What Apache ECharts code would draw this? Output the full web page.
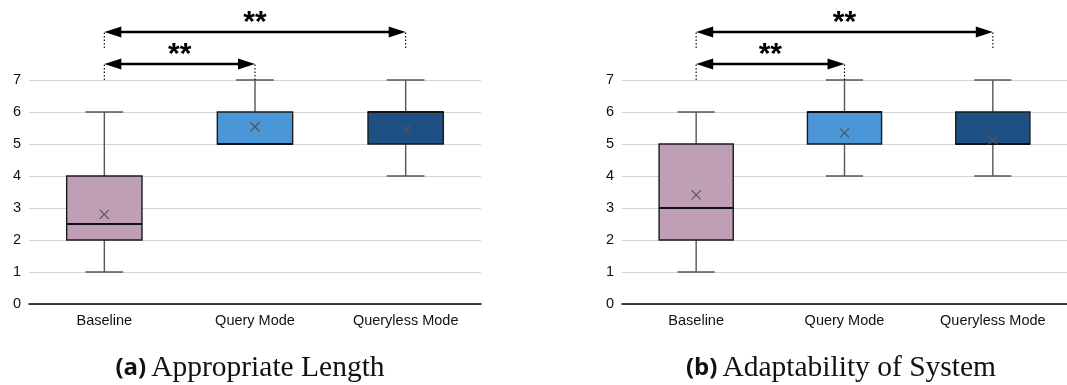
<!DOCTYPE html>
<html><head><meta charset="utf-8">
<script src="https://cdn.jsdelivr.net/npm/echarts@6/dist/echarts.min.js"></script>
<style>html,body{margin:0;padding:0;background:#fff}#c{width:1067px;height:385px}</style>
</head><body><div id="c"></div>
<script>
// ---- data ----
const categories = ['Baseline', 'Query Mode', 'Queryless Mode'];
// [min, Q1, median, Q3, max, mean]
const lengthStats = [
  [1, 2, 2.5, 4, 6, 2.8],
  [5, 5, 5, 6, 7, 5.54],
  [4, 5, 6, 6, 7, 5.44]
];
const adaptStats = [
  [1, 2, 3, 5, 6, 3.41],
  [4, 5, 6, 6, 7, 5.35],
  [4, 5, 5, 6, 7, 5.12]
];
// [fromIndex, toIndex, arrowLevel, dottedBaseLevel, label]
const lengthSig = [[0, 1, 7.5, 7, '**'], [0, 2, 8.5, 8, '**']];
const adaptSig = [[0, 1, 7.5, 7, '**'], [0, 2, 8.5, 8, '**']];
const yTicks = [0, 1, 2, 3, 4, 5, 6, 7];
const titles = [['(a)', 'Appropriate Length'], ['(b)', 'Adaptability of System']];
const boxColors = ['#bf9fb5', '#4b96d6', '#1f5084'];

// ---- rendering ----
const chart = echarts.init(document.getElementById('c'), null, {renderer: 'canvas'});

function boxRender(params, api) {
  const ci = api.value(0);
  const mn = api.value(1), q1 = api.value(2), md = api.value(3), q3 = api.value(4), mx = api.value(5), mean = api.value(6);
  const band = api.size([1, 0])[0];
  const bw = band * 0.5, cw = band * 0.25;
  const pMin = api.coord([ci, mn]), pQ1 = api.coord([ci, q1]), pMd = api.coord([ci, md]),
        pQ3 = api.coord([ci, q3]), pMx = api.coord([ci, mx]), pMean = api.coord([ci, mean]);
  const x = pMin[0];
  const wStyle = {stroke: '#555', lineWidth: 1.4};
  const children = [
    {type: 'line', shape: {x1: x, y1: pMx[1], x2: x, y2: pQ3[1]}, style: wStyle},
    {type: 'line', shape: {x1: x, y1: pQ1[1], x2: x, y2: pMin[1]}, style: wStyle},
    {type: 'line', shape: {x1: x - cw / 2, y1: pMx[1], x2: x + cw / 2, y2: pMx[1]}, style: wStyle},
    {type: 'line', shape: {x1: x - cw / 2, y1: pMin[1], x2: x + cw / 2, y2: pMin[1]}, style: wStyle},
    {type: 'rect', shape: {x: x - bw / 2, y: pQ3[1], width: bw, height: pQ1[1] - pQ3[1]},
      style: {fill: boxColors[ci], stroke: '#1a1a1a', lineWidth: 1.4}},
    {type: 'line', shape: {x1: x - bw / 2, y1: pMd[1], x2: x + bw / 2, y2: pMd[1]}, style: {stroke: '#111', lineWidth: 2}},
    {type: 'line', shape: {x1: x - 4.5, y1: pMean[1] - 4.5, x2: x + 4.5, y2: pMean[1] + 4.5}, style: {stroke: '#555', lineWidth: 1.2}},
    {type: 'line', shape: {x1: x - 4.5, y1: pMean[1] + 4.5, x2: x + 4.5, y2: pMean[1] - 4.5}, style: {stroke: '#555', lineWidth: 1.2}}
  ];
  return {type: 'group', children};
}

function sigRender(params, api, labels) {
  const a = api.value(0), b = api.value(1), lv = api.value(2), base = api.value(3);
  const label = labels[params.dataIndex];
  const p1 = api.coord([a, lv]), p2 = api.coord([b, lv]);
  const b1 = api.coord([a, base]), b2 = api.coord([b, base]);
  const al = 17, ah = 5.5;
  const dot = {stroke: '#111', lineWidth: 1.2, lineDash: [1.5, 2]};
  return {type: 'group', children: [
    {type: 'line', shape: {x1: b1[0], y1: b1[1], x2: p1[0], y2: p1[1]}, style: dot},
    {type: 'line', shape: {x1: b2[0], y1: b2[1], x2: p2[0], y2: p2[1]}, style: dot},
    {type: 'line', shape: {x1: p1[0] + al - 2, y1: p1[1], x2: p2[0] - al + 2, y2: p2[1]}, style: {stroke: '#000', lineWidth: 2.6}},
    {type: 'polygon', shape: {points: [[p1[0], p1[1]], [p1[0] + al, p1[1] - ah], [p1[0] + al, p1[1] + ah]]}, style: {fill: '#000'}},
    {type: 'polygon', shape: {points: [[p2[0], p2[1]], [p2[0] - al, p2[1] - ah], [p2[0] - al, p2[1] + ah]]}, style: {fill: '#000'}},
    {type: 'text', x: (p1[0] + p2[0]) / 2, y: p1[1] + 6,
      style: {text: label, fontFamily: 'Liberation Sans', fontWeight: 'bold', fontSize: 30, fill: '#000', align: 'center', verticalAlign: 'bottom'}}
  ]};
}

const grids = [{left: 29, top: 80, width: 452, height: 224}, {left: 622, top: 80, width: 452, height: 224}];
const statsSets = [lengthStats, adaptStats];
const sigSets = [lengthSig, adaptSig];

const option = {
  animation: false,
  backgroundColor: '#fff',
  grid: grids,
  title: titles.map((t, i) => ({
    text: '{b|' + t[0] + '} {r|' + t[1] + '}',
    left: i === 0 ? 245 : 836, top: 348, textAlign: 'center',
    textStyle: {fontWeight: 'normal', rich: {
      b: {fontFamily: 'Open Sans', fontWeight: 'bold', fontSize: 24, color: '#111'},
      r: {fontFamily: 'Liberation Serif', fontWeight: 'normal', fontSize: 29.5, color: '#111'}
    }}
  })),
  xAxis: grids.map((g, i) => ({
    type: 'category', gridIndex: i, data: categories,
    axisLine: {lineStyle: {color: '#000', width: 1.5}},
    axisTick: {show: false},
    axisLabel: {color: '#111', fontFamily: 'Liberation Sans', fontSize: 14.5, margin: 9},
    splitLine: {show: false}
  })),
  yAxis: grids.map((g, i) => ({
    type: 'value', gridIndex: i, min: yTicks[0], max: yTicks[yTicks.length - 1], interval: 1,
    axisLine: {show: false}, axisTick: {show: false},
    axisLabel: {color: '#111', fontFamily: 'Liberation Sans', fontSize: 14.5, margin: 8},
    splitLine: {lineStyle: {color: '#d4d4d4', width: 1}}
  })),
  series: []
};

statsSets.forEach((stats, i) => {
  option.series.push({
    type: 'custom', xAxisIndex: i, yAxisIndex: i, clip: false,
    renderItem: boxRender,
    data: stats.map((s, ci) => [ci].concat(s))
  });
});
sigSets.forEach((sig, i) => {
  const labels = sig.map(s => s[4]);
  option.series.push({
    type: 'custom', xAxisIndex: i, yAxisIndex: i, clip: false, z: 5,
    renderItem: function (params, api) { return sigRender(params, api, labels); },
    data: sig.map(s => [s[0], s[1], s[2], s[3]])
  });
});

chart.setOption(option);
</script>
</body></html>
